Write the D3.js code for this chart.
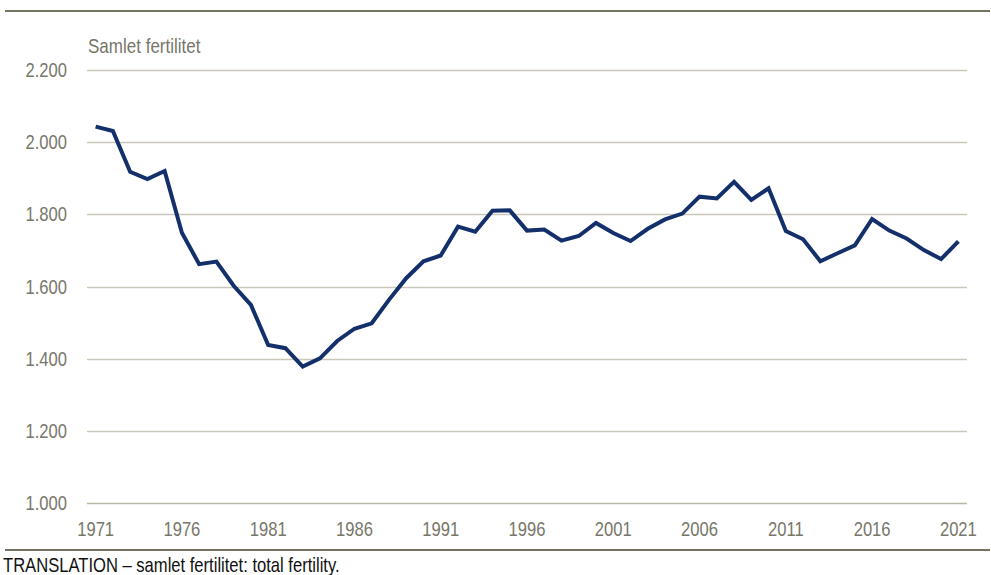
<!DOCTYPE html>
<html>
<head>
<meta charset="utf-8">
<script src="https://cdn.jsdelivr.net/npm/d3@7"></script>
<style>
  body { margin: 0; background: #fff; }
  svg { display: block; font-family: "Liberation Sans", Arial, sans-serif; }
</style>
</head>
<body>
<div id="chart"></div>
<script>
// Dimensions
const width = 991;
const height = 575;
const margin = { top: 70, right: 24, bottom: 72, left: 87 };
const narrow = 0.83; // compression horizontale (police "narrow")

// Données : fécondité totale (pour 1000 femmes)
const years = d3.range(1971, 2022);
const fertility = [
  2043, 2031, 1918, 1898, 1920, 1749, 1662, 1669, 1602, 1549,
  1438, 1429, 1378, 1401, 1449, 1483, 1498, 1563, 1623, 1670,
  1686, 1766, 1752, 1810, 1811, 1755, 1758, 1727, 1740, 1776,
  1748, 1726, 1760, 1786, 1802, 1849, 1844, 1890, 1840, 1872,
  1754, 1731, 1670, 1692, 1714, 1787, 1755, 1733, 1701, 1676,
  1725
];
const yTicks = [1000, 1200, 1400, 1600, 1800, 2000, 2200];
const xTickYears = [1971, 1976, 1981, 1986, 1991, 1996, 2001, 2006, 2011, 2016, 2021];

const yLabel = "Samlet fertilitet";
const note = "TRANSLATION – samlet fertilitet: total fertility.";

const data = years.map((y, i) => ({ year: y, value: fertility[i] }));

const svg = d3.select("#chart")
  .append("svg")
  .attr("width", width)
  .attr("height", height);

// Echelles
const x = d3.scaleBand()
  .domain(years)
  .range([margin.left, width - margin.right]);

const y = d3.scaleLinear()
  .domain([1000, 2200])
  .range([height - margin.bottom, margin.top]);

const xc = d => x(d) + x.bandwidth() / 2;

// texte compressé
const place = (tx, ty) => `translate(${tx},${ty}) scale(${narrow},1)`;

// Filets haut et bas
svg.append("line")
  .attr("x1", 5).attr("x2", 990)
  .attr("y1", 11).attr("y2", 11)
  .attr("stroke", "#757262").attr("stroke-width", 2);

svg.append("line")
  .attr("x1", 5).attr("x2", 990)
  .attr("y1", 550).attr("y2", 550)
  .attr("stroke", "#757262").attr("stroke-width", 2);

// Grille + étiquettes Y
svg.append("g")
  .selectAll("line")
  .data(yTicks)
  .join("line")
  .attr("x1", margin.left)
  .attr("x2", width - margin.right)
  .attr("y1", d => Math.round(y(d)) + 0.5)
  .attr("y2", d => Math.round(y(d)) + 0.5)
  .attr("stroke", d => d === 1000 ? "#b9b7a6" : "#c9c7b9")
  .attr("stroke-width", 1.3);

svg.append("g")
  .selectAll("text")
  .data(yTicks)
  .join("text")
  .attr("transform", d => place(67, y(d)))
  .attr("dy", "0.35em")
  .attr("text-anchor", "end")
  .attr("fill", "#77766a")
  .style("font-size", "20px")
  .text(d => d3.format(",")(d).replace(",", "."));

// Etiquettes X
svg.append("g")
  .selectAll("text")
  .data(xTickYears)
  .join("text")
  .attr("transform", d => place(xc(d), 536))
  .attr("text-anchor", "middle")
  .attr("fill", "#77766a")
  .style("font-size", "20px")
  .text(d => d);

// Titre de l'axe
svg.append("text")
  .attr("transform", place(88, 53))
  .attr("fill", "#77766a")
  .style("font-size", "20.5px")
  .text(yLabel);

// Courbe
const line = d3.line()
  .x(d => xc(d.year))
  .y(d => y(d.value));

svg.append("path")
  .datum(data)
  .attr("fill", "none")
  .attr("stroke", "#13306b")
  .attr("stroke-width", 4)
  .attr("stroke-linejoin", "miter")
  .attr("d", line);

// Note
svg.append("text")
  .attr("transform", place(3, 572))
  .attr("fill", "#111")
  .style("font-size", "20px")
  .text(note);
</script>
</body>
</html>
